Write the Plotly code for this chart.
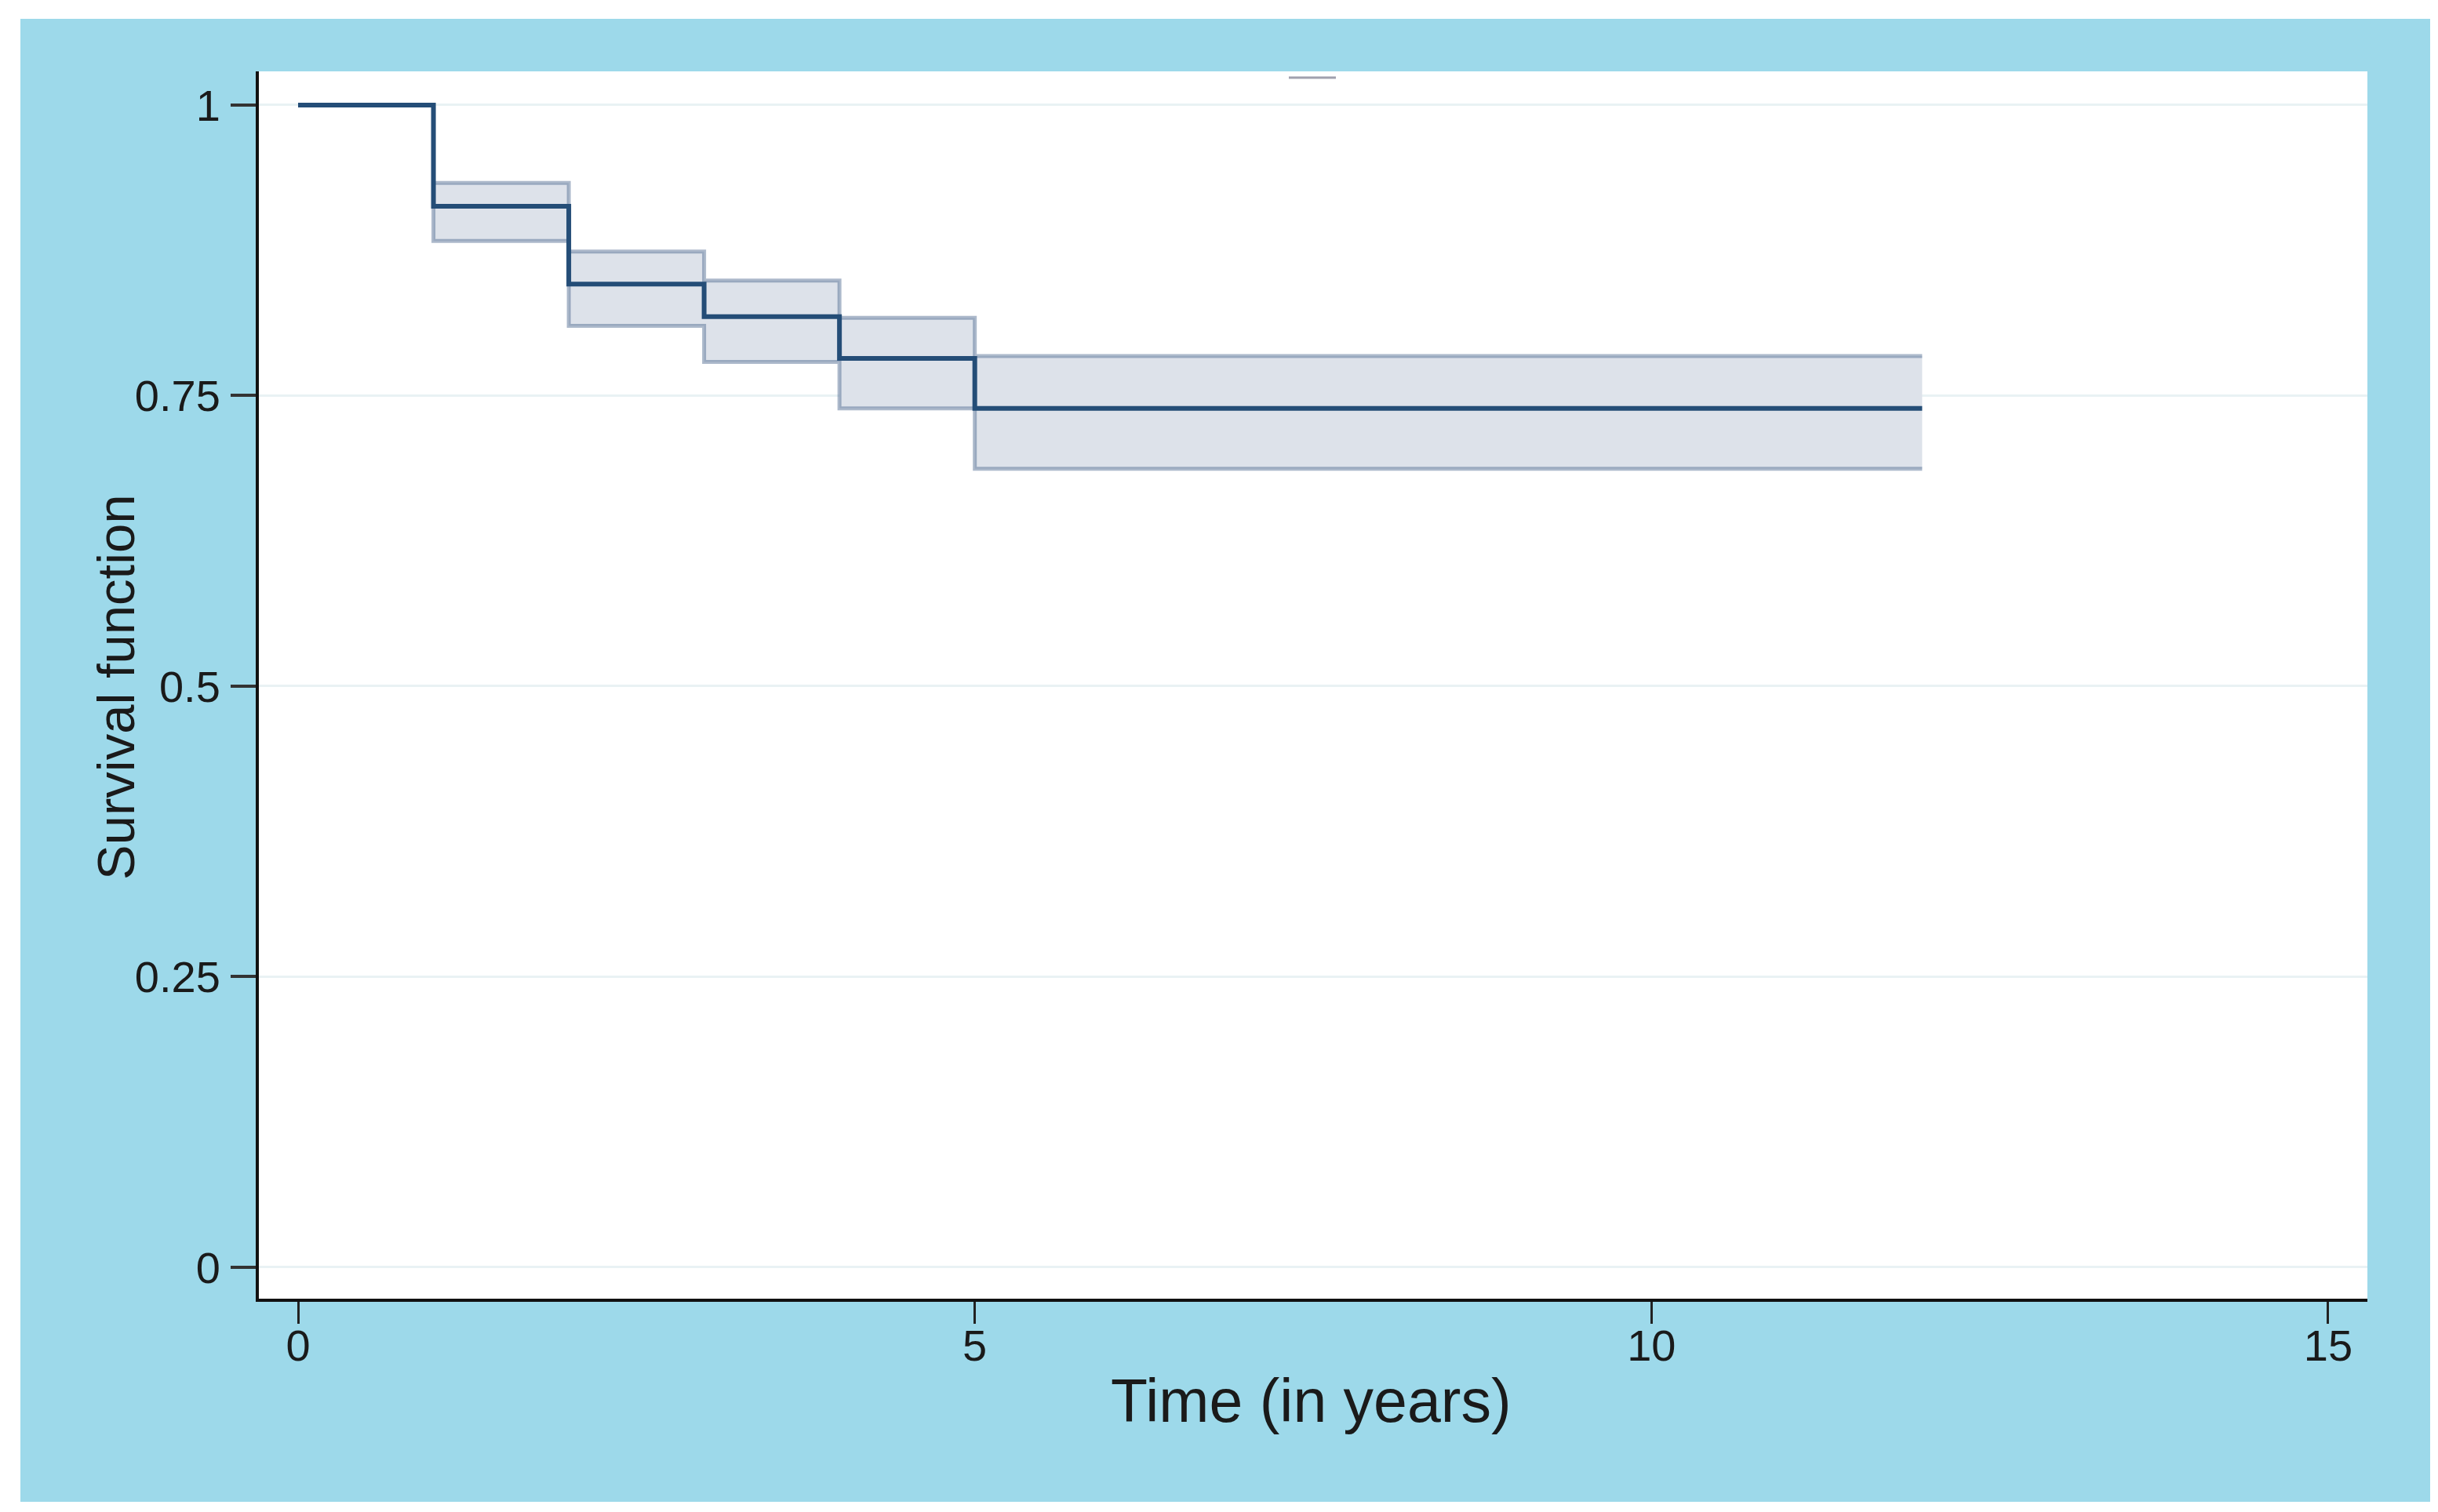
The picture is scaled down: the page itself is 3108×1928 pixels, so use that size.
import plotly.graph_objects as go

# Kaplan-Meier estimate
years = [0, 1, 2, 3, 4, 5, 6, 7, 8, 9, 10, 11, 12]
survival = [1.0, 0.913, 0.846, 0.818, 0.782, 0.739, 0.739, 0.739, 0.739, 0.739, 0.739, 0.739, 0.739]
ci_upper = [1.0, 0.933, 0.874, 0.849, 0.817, 0.784, 0.784, 0.784, 0.784, 0.784, 0.784, 0.784, 0.784]
ci_lower = [1.0, 0.883, 0.810, 0.779, 0.739, 0.687, 0.687, 0.687, 0.687, 0.687, 0.687, 0.687, 0.687]

y_ticks = [0, 0.25, 0.5, 0.75, 1]
y_ticktext = ["0", "0.25", "0.5", "0.75", "1"]
x_ticks = [0, 5, 10, 15]
x_ticktext = ["0", "5", "10", "15"]

FONT = "Liberation Sans, Arial, sans-serif"
LINE = "#244d77"
CI_LINE = "rgba(70,100,140,0.45)"
CI_FILL = "#dde2ea"
BLUE_BG = "#9dd9ea"

fig = go.Figure()
fig.add_trace(go.Scatter(x=years, y=ci_upper, mode="lines", line=dict(shape="hv", color=CI_LINE, width=5),
                         showlegend=False, hoverinfo="skip"))
fig.add_trace(go.Scatter(x=years, y=ci_lower, mode="lines", line=dict(shape="hv", color=CI_LINE, width=5),
                         fill="tonexty", fillcolor=CI_FILL, showlegend=False, hoverinfo="skip"))
fig.add_trace(go.Scatter(x=years, y=survival, mode="lines", line=dict(shape="hv", color=LINE, width=6),
                         showlegend=False))

W, H = 3108, 1928
L, R, T, B = 322, 98, 83, 280
pw, ph = W - L - R, H - T - B

def px(xp):
    return (xp - L) / pw

def py(yp):
    return (H - B - yp) / ph

fig.update_layout(
    width=W, height=H,
    margin=dict(l=L, r=R, t=T, b=B),
    paper_bgcolor="white",
    plot_bgcolor="rgba(0,0,0,0)",
    font=dict(family=FONT, color="#1a1a1a"),
    shapes=[
        dict(type="rect", xref="paper", yref="paper", x0=px(18), x1=px(3090), y0=py(1907), y1=py(16),
             fillcolor=BLUE_BG, line=dict(width=0), layer="below"),
        dict(type="rect", xref="paper", yref="paper", x0=0, x1=1, y0=0, y1=1,
             fillcolor="white", line=dict(width=0), layer="below"),
        dict(type="line", xref="paper", yref="paper", x0=px(1635), x1=px(1695), y0=py(91), y1=py(91),
             line=dict(color="#a0a0ae", width=3)),
    ],
    annotations=[
        dict(text="Survival function", xref="paper", yref="paper", x=px(139), y=py(868),
             xanchor="center", yanchor="middle", textangle=-90, showarrow=False,
             font=dict(size=67, family=FONT, color="#1a1a1a")),
        dict(text="Time (in years)", xref="paper", yref="paper", x=px(1663), y=py(1778),
             xanchor="center", yanchor="middle", showarrow=False,
             font=dict(size=77, family=FONT, color="#1a1a1a")),
    ],
)

fig.update_xaxes(
    range=[-0.29, 15.29], tickvals=x_ticks, ticktext=x_ticktext,
    showgrid=False, zeroline=False,
    showline=True, linecolor="#111111", linewidth=4,
    ticks="outside", ticklen=28, tickwidth=3, tickcolor="#222222",
    tickfont=dict(size=56, family=FONT, color="#1a1a1a"),
    ticklabelstandoff=-20,
)
fig.update_yaxes(
    range=[-0.027, 1.029], tickvals=y_ticks, ticktext=y_ticktext,
    showgrid=True, gridcolor="#e9f2f4", gridwidth=3, zeroline=False,
    showline=True, linecolor="#111111", linewidth=4,
    ticks="outside", ticklen=32, tickwidth=4, tickcolor="#333333",
    tickfont=dict(size=56, family=FONT, color="#1a1a1a"),
    ticklabelstandoff=2,
)

fig.write_html("out.html")
